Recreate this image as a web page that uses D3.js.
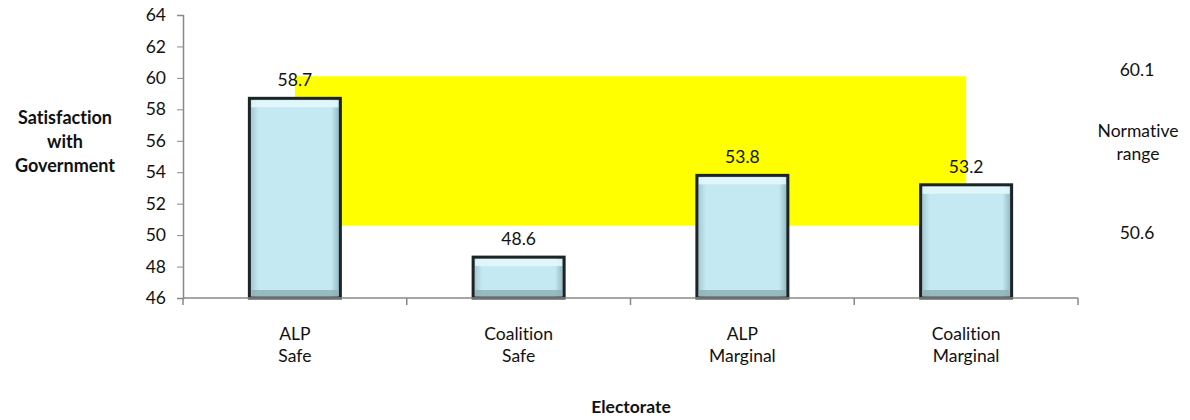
<!DOCTYPE html>
<html><head><meta charset="utf-8">
<script src="https://cdn.jsdelivr.net/npm/d3@7"></script>
<style>body{margin:0;background:#fff}svg{display:block;font-family:Lato,"Open Sans",sans-serif;font-variant-ligatures:none;font-feature-settings:"liga" 0,"dlig" 0}</style>
</head><body><svg id="c" width="1190" height="420"></svg>
<script>
const categories = [["ALP","Safe"],["Coalition","Safe"],["ALP","Marginal"],["Coalition","Marginal"]];
const values = [58.7, 48.6, 53.8, 53.2];
const yTicks = [46,48,50,52,54,56,58,60,62,64];
const normLow = 50.6, normHigh = 60.1;

const FS = 17.5;
const svg = d3.select("#c");
const L = 183, R = 1078, T = 15, B = 298;
const x = d3.scaleBand().domain(d3.range(categories.length)).range([L, R]).paddingInner(0).paddingOuter(0);
const y = d3.scaleLinear().domain([46, 64]).range([B, T]);
const bw = 91;

const defs = svg.append("defs");
const gh = defs.append("linearGradient").attr("id","gh").attr("x1",0).attr("x2",1).attr("y1",0).attr("y2",0);
gh.append("stop").attr("offset","0").attr("stop-color","#9fc3cc");
gh.append("stop").attr("offset","0.1").attr("stop-color","#c4e9f3");
gh.append("stop").attr("offset","0.9").attr("stop-color","#c4e9f3");
gh.append("stop").attr("offset","1").attr("stop-color","#8fb2bb");

// normative range
svg.append("rect")
  .attr("x", x(0) + x.bandwidth()/2)
  .attr("width", x(3) - x(0))
  .attr("y", y(normHigh))
  .attr("height", y(normLow) - y(normHigh))
  .attr("fill", "#ffff00");

// axes
const ya = svg.append("g").attr("transform", `translate(${L},0)`)
  .call(d3.axisLeft(y).tickValues(yTicks).tickSize(6).tickPadding(11));
ya.select(".domain").attr("stroke","#888").attr("stroke-width",1.5);
ya.selectAll(".tick line").attr("stroke","#888");
ya.selectAll(".tick text").attr("font-size",FS).attr("fill","#111").attr("font-family","Lato");

// bars
const bars = svg.append("g").selectAll("g").data(values).join("g");
bars.append("rect")
  .attr("x", (d,i) => x(i) + x.bandwidth()/2 - bw/2)
  .attr("width", bw)
  .attr("y", d => y(d))
  .attr("height", d => B - y(d))
  .attr("fill", "url(#gh)")
  .attr("stroke", "#1c2426").attr("stroke-width", 3);
bars.append("rect")
  .attr("x", (d,i) => x(i) + x.bandwidth()/2 - bw/2 + 2)
  .attr("width", bw - 4)
  .attr("y", d => y(d) + 2)
  .attr("height", 7)
  .attr("fill", "#e4f7fb").attr("opacity", 0.9);
bars.append("rect")
  .attr("x", (d,i) => x(i) + x.bandwidth()/2 - bw/2 + 2)
  .attr("width", bw - 4)
  .attr("y", d => B - 8)
  .attr("height", 6)
  .attr("fill", "#8fadb4").attr("opacity", 0.8);

bars.append("text")
  .attr("x", (d,i) => x(i) + x.bandwidth()/2)
  .attr("y", d => y(d) - 12)
  .attr("text-anchor","middle").attr("font-size",FS).attr("fill","#111")
  .text(d => d.toFixed(1));

// x axis
const xa = svg.append("g").attr("transform", `translate(0,${B})`);
xa.append("line").attr("x1",L).attr("x2",R).attr("stroke","#888").attr("stroke-width",1.5);
xa.selectAll("line.t").data(d3.range(categories.length+1)).join("line").attr("class","t")
  .attr("x1", i => i < categories.length ? x(i) : R).attr("x2", i => i < categories.length ? x(i) : R)
  .attr("y1",0).attr("y2",7).attr("stroke","#888").attr("stroke-width",1.5);
const lab = xa.selectAll("text").data(categories).join("text")
  .attr("text-anchor","middle").attr("font-size",FS).attr("fill","#111");
lab.each(function(d,i){
  const t = d3.select(this);
  d.forEach((s,k) => t.append("tspan").attr("x", x(i)+x.bandwidth()/2).attr("y", 42 + k*22).text(s));
});

// titles
svg.append("text").attr("x",631).attr("y",413).attr("text-anchor","middle")
  .attr("font-size",FS).attr("font-weight","bold").attr("fill","#111").text("Electorate");
const yt = svg.append("text").attr("text-anchor","middle").attr("font-size",18).attr("font-weight","bold").attr("fill","#111");
["Satisfaction","with","Government"].forEach((s,k)=> yt.append("tspan").attr("x",65).attr("y",124+k*24).text(s));

// normative labels
const nr = svg.append("g").attr("font-size",FS).attr("fill","#111").attr("text-anchor","middle");
nr.append("text").attr("x",1137).attr("y",76).text(normHigh.toFixed(1));
nr.append("text").attr("x",1138).attr("y",137).text("Normative");
nr.append("text").attr("x",1138).attr("y",160).text("range");
nr.append("text").attr("x",1137).attr("y",239).text(normLow.toFixed(1));
</script></body></html>
